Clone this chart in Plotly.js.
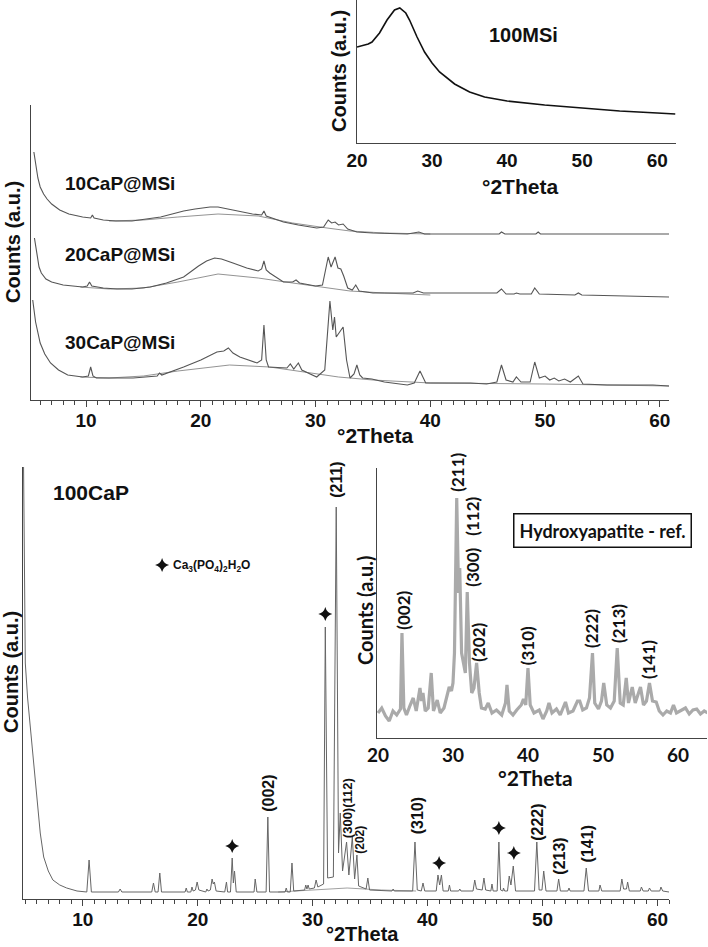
<!DOCTYPE html>
<html><head><meta charset="utf-8">
<script src="https://cdn.plot.ly/plotly-3.0.1.min.js"></script>
<style>body{margin:0;background:#fff}#c{width:708px;height:947px}</style>
</head><body><div id="c"></div>
<script>
// ---- DATA ----
// top inset: 100MSi
const msi100 = [[20,96],[20.5,97],[21,98],[21.5,99],[22,101],[22.5,105],[23,110],[24,123],[25,133],[25.7,135],[26.5,130],[27,123],[28,106],[29,91],[30,80],[31,71],[32,65],[33,59],[34,55],[35,51],[37,46],[40,42],[45,38],[50,35],[55,32],[60,30],[62.4,29]];
// middle panel (offset traces)
const cap10 = [[5.45,248],[5.6,235],[5.8,222],[6.0,213],[6.3,206],[6.6,201],[7.0,196],[7.7,190],[8.5,186],[9.7,183],[10.4,182],[10.55,185],[10.7,182],[11.5,180],[12.6,179],[14.0,179],[15.5,181],[16.5,183],[17.5,186],[18.5,189],[19.5,191],[20.8,193],[21.5,193],[22.3,191],[23.5,188],[24.5,186],[25.3,185],[25.5,189],[25.7,184],[26.5,181],[27.2,178],[28.5,175],[30.1,172],[30.7,173],[31.1,180],[31.4,177],[31.7,178],[32.0,175],[32.4,176],[32.8,171],[33.6,168],[35,167],[38,166],[39,168],[39.5,166],[46.0,166],[46.2,168],[46.5,166],[49.2,166],[49.4,168],[49.6,166],[60.8,166]];
const cap10Bg = [[12,179],[15,180],[18,183],[21.5,186],[25,184],[28,177],[31,172],[33,169],[36,167],[40,166]];
const cap20 = [[5.5,162],[5.7,145],[5.9,133],[6.1,127],[6.5,121],[7.0,118],[8.0,115],[9.7,113],[10.1,114],[10.3,118],[10.5,114],[11.5,112],[12.7,111],[14.0,111],[15.6,113],[17.0,117],[18.5,123],[19.8,134],[20.5,139],[21.2,142],[21.8,141],[22.8,137],[24.0,132],[25.0,129],[25.3,131],[25.5,139],[25.7,130],[26.0,127],[27.2,118],[28.0,118],[28.3,120],[28.6,117],[30.0,114],[30.6,115],[30.9,133],[31.1,143],[31.35,133],[31.7,143],[31.95,132],[32.2,131],[32.45,124],[32.8,112],[33.2,110],[33.5,115],[33.8,109],[35,107],[38.5,107],[38.9,109],[39.4,107],[45.8,107],[46.2,111],[46.6,106],[47.3,106],[47.5,107],[47.8,106],[48.8,106],[49.1,112],[49.5,106],[52.6,105],[52.9,107],[53.2,105],[56,104],[60.8,103]];
const cap20Bg = [[9.5,113],[12,111],[15,112],[18,118],[21.5,126],[25,122],[28,117],[31,112],[33,109],[36,107],[40,105]];
const cap30 = [[5.35,100],[5.6,78],[6.0,57],[6.4,46],[6.9,37],[7.6,30],[8.4,25],[9.7,23],[10.2,24],[10.4,33],[10.6,24],[10.9,22],[14.1,22],[16.2,24],[16.4,27],[16.6,25],[18.5,33],[20.0,40],[21.4,48],[22.0,49],[22.4,52],[22.8,47],[23.4,43],[24.9,37],[25.3,40],[25.5,75],[25.7,40],[25.9,33],[27.5,32],[27.8,36],[28.1,31],[28.5,37],[28.8,30],[30.1,23],[30.8,30],[31.25,99],[31.5,70],[31.65,83],[31.8,63],[32.1,68],[32.4,73],[32.7,40],[33.0,22],[33.35,26],[33.6,35],[33.85,25],[34.1,22],[34.9,21],[36,18],[38.0,15],[38.6,17],[39.1,29],[39.6,17],[41.4,17],[43.5,17],[44.9,16],[45.8,18],[46.2,35],[46.6,20],[47.2,18],[47.5,23],[47.9,18],[48.7,18],[49.1,38],[49.5,22],[50.0,24],[50.4,20],[50.8,22],[51.2,19],[51.7,21],[52.2,18],[52.9,24],[53.3,16],[55.4,15],[56.8,15],[59.4,15],[60.8,14]];
const cap30Bg = [[9.5,23],[12,22],[15,24],[18,29],[22.5,35],[26,33],[29,28],[32,23],[35,20],[40,17],[50,16],[60.8,14]];
// bottom panel: 100CaP
const cap100 = [[4.85,426],[4.92,300],[5.0,230],[5.2,195],[5.45,165],[5.7,135],[6.0,93],[6.3,60],[6.6,36],[7.0,22],[7.4,13],[8.0,8],[8.6,5],[9.5,2],[10.35,1],[10.55,33],[10.75,1],[13.1,1],[13.25,4],[13.4,1],[16.0,1],[16.15,10],[16.3,1],[16.55,1],[16.7,20],[16.85,1],[18.9,1],[19.0,5],[19.1,1],[19.4,1],[19.5,6],[19.6,2],[19.8,3],[19.95,11],[20.1,3],[20.7,1],[20.8,4],[20.9,2],[21.1,3],[21.25,14],[21.35,9],[21.45,11],[21.6,2],[22.35,1],[22.5,11],[22.6,1],[22.85,1],[23.0,35],[23.1,10],[23.2,22],[23.35,1],[24.9,1],[25.0,14],[25.15,1],[25.95,1],[26.1,76],[26.25,1],[27.6,1],[27.7,5],[27.8,1],[28.05,1],[28.2,30],[28.35,2],[29.3,3],[29.4,8],[29.5,4],[29.6,8],[29.7,4],[30.15,5],[30.3,13],[30.45,6],[30.95,9],[31.1,266],[31.3,15],[31.8,16],[32.05,386],[32.25,40],[32.4,80],[32.6,22],[32.95,51],[33.15,18],[33.45,56],[33.65,14],[33.85,38],[34.0,7],[34.65,4],[34.8,15],[34.95,3],[36.9,2],[37.0,4],[37.1,2],[38.7,2],[38.9,51],[39.1,3],[39.45,2],[39.6,10],[39.75,2],[40.75,2],[40.9,18],[41.05,8],[41.2,18],[41.35,2],[41.8,2],[41.9,8],[42.0,2],[42.7,2],[42.8,4],[42.9,2],[43.95,2],[44.1,13],[44.25,4],[44.75,3],[44.9,15],[45.05,3],[45.5,2],[45.6,9],[45.7,2],[46.05,2],[46.2,51],[46.35,3],[46.55,2],[46.6,5],[46.7,2],[46.95,2],[47.1,17],[47.25,8],[47.45,27],[47.65,2],[49.3,2],[49.5,51],[49.7,3],[49.95,3],[50.1,22],[50.3,2],[51.25,2],[51.4,14],[51.55,2],[52.2,2],[52.3,5],[52.4,2],[53.6,2],[53.8,25],[54.0,2],[54.9,2],[55.0,8],[55.15,2],[56.75,2],[56.9,14],[57.05,4],[57.3,4],[57.4,11],[57.55,2],[58.5,2],[58.6,6],[58.75,2],[59.2,2],[59.3,5],[59.45,2],[60.2,2],[60.3,6],[60.45,2],[61.0,1]];
const cap100Bg = [[27,1],[30,3],[33,5],[36,3],[39,2]];
const starX = [16.9, 23.0, 31.1, 41.0, 46.2, 47.5];
const starY = [328, 47, 279, 30, 65, 40];
const capLabels = ['(211)','(002)','(300)(112)','(202)','(310)','(222)','(213)','(141)'];
const capLabelX = [32.1, 26.1, 33.0, 34.1, 39.1, 49.5, 51.4, 53.9];
const capLabelY = [413, 100, 85, 53, 77, 71, 37, 49];
const capLabelSize = [16, 16, 13, 12, 16, 16, 16, 16];
// inset: Hydroxyapatite reference
const hap = [[20,0],[20.5,5],[21,-3],[21.5,-8],[22,2],[22.5,-2],[23.0,4],[23.2,80],[23.45,5],[23.8,-2],[24.3,8],[24.7,15],[25.1,2],[25.6,25],[25.8,12],[26.0,20],[26.3,2],[26.7,5],[27.1,40],[27.4,2],[27.9,13],[28.3,0],[28.8,5],[29.3,18],[29.5,26],[29.8,22],[30.0,30],[30.2,60],[30.5,215],[30.75,120],[30.9,145],[31.15,60],[31.4,50],[31.65,40],[31.9,121],[32.2,50],[32.5,20],[32.8,25],[33.15,50],[33.5,20],[33.8,5],[34.3,4],[34.7,10],[35.2,0],[35.8,3],[36.5,-2],[37.0,10],[37.2,28],[37.5,2],[38.0,-2],[38.5,3],[39.1,8],[39.4,14],[39.7,8],[40.0,45],[40.3,8],[40.8,0],[41.5,3],[42.0,-6],[42.5,2],[42.8,10],[43.2,0],[43.8,4],[44.3,-2],[45.0,11],[45.4,0],[46.0,2],[46.6,12],[46.9,12],[47.3,3],[47.8,5],[48.2,15],[48.6,60],[48.9,10],[49.4,4],[49.8,12],[50.1,30],[50.5,8],[51.0,5],[51.5,12],[51.9,65],[52.3,10],[52.7,8],[53.1,35],[53.4,10],[53.9,26],[54.3,10],[55.0,26],[55.4,8],[55.8,12],[56.2,30],[56.6,12],[57.1,11],[57.5,2],[58.0,-2],[58.5,2],[59.0,0],[59.4,8],[59.8,0],[60.3,2],[61.0,5],[61.5,-1],[62.0,3],[62.5,4],[63.0,-1],[63.5,2],[64,0]];
const hapLabels = ['(002)','(211)','(112)','(300)','(202)','(310)','(222)','(213)','(141)'];
const hapLabelX = [23.3, 30.5, 32.5, 32.5, 33.3, 39.9, 48.4, 52.0, 56.0];
const hapLabelY = [103, 241, 197, 146, 71, 67, 85, 90, 54];
const sampleNames = ['10CaP@MSi','20CaP@MSi','30CaP@MSi'];
const majorTicks = [10, 20, 30, 40, 50, 60];
const midTicks = [5, 15, 25, 35, 45, 55];

// ---- helpers ----
const W = 708, H = 947;
const PX = x => x / W, PY = y => 1 - y / H;
const xs = a => a.map(p => p[0]), ys = a => a.map(p => p[1]);
const ARIAL = 'Liberation Sans, Arial, sans-serif';
const CAL = 'Lato, Open Sans, sans-serif';
const bold = (size, fam) => ({family: fam || ARIAL, size: size, weight: 'bold', color: '#111'});

function line(d, xa, ya, color, width) {
  return {x: xs(d), y: ys(d), xaxis: xa, yaxis: ya, mode: 'lines', type: 'scatter',
    line: {color: color, width: width}, hoverinfo: 'skip'};
}
const traces = [
  line(msi100, 'x2', 'y2', '#111', 1.6),
  line(cap10Bg, 'x', 'y', '#777', 0.8),
  line(cap20Bg, 'x', 'y', '#777', 0.8),
  line(cap30Bg, 'x', 'y', '#777', 0.8),
  line(cap10, 'x', 'y', '#555', 1.1),
  line(cap20, 'x', 'y', '#555', 1.1),
  line(cap30, 'x', 'y', '#555', 1.1),
  line(cap100Bg, 'x3', 'y3', '#888', 0.8),
  line(cap100, 'x3', 'y3', '#666', 1.0),
  line(hap, 'x4', 'y4', '#aaaaaa', 3.2),
  {x: starX, y: starY, xaxis: 'x3', yaxis: 'y3', mode: 'markers', type: 'scatter',
   marker: {symbol: 'star-diamond', size: 10, color: '#111', line: {width: 0}}, hoverinfo: 'skip'}
];

const mainX = (dom, rng, ya) => ({domain: dom, range: rng, anchor: ya, showline: true, linecolor: '#444', linewidth: 1.2,
  ticks: 'outside', tickmode: 'array', tickvals: majorTicks, ticklen: 6, tickwidth: 1, tickcolor: '#444',
  ticklabelstandoff: -3,
  minor: {tickmode: 'linear', tick0: 0, dtick: 1, ticks: 'outside', ticklen: 4, tickwidth: 1, tickcolor: '#444', showgrid: false},
  showgrid: false, zeroline: false, tickfont: bold(19), fixedrange: true});
const midX = (base, dom, rng, ya) => ({overlaying: base, domain: dom, range: rng, anchor: ya, side: 'bottom', showline: false,
  ticks: 'outside', tickmode: 'array', tickvals: midTicks, ticklen: 6, tickwidth: 1, tickcolor: '#444',
  showticklabels: false, showgrid: false, zeroline: false, fixedrange: true});
const plainY = (dom, rng, xa) => ({domain: dom, range: rng, anchor: xa, showline: true, linecolor: '#444', linewidth: 1.2,
  ticks: '', showticklabels: false, showgrid: false, zeroline: false, fixedrange: true});
const insetX = (dom, rng, ya, fam) => ({domain: dom, range: rng, anchor: ya, showline: true, linecolor: '#444', linewidth: 1.2,
  ticks: '', tickmode: 'array', tickvals: [20,30,40,50,60], showgrid: false, zeroline: false, tickfont: bold(19, fam), fixedrange: true});

const ann = [];
function pText(text, x, y, size, fam, angle) {
  ann.push({text: text, xref: 'paper', yref: 'paper', x: PX(x), y: PY(y), xanchor: 'center', yanchor: 'middle',
    showarrow: false, font: bold(size, fam), textangle: angle || 0});
}
// axis titles
pText('°2Theta', 520, 187, 21);
pText('Counts (a.u.)', 339, 71, 20, ARIAL, -90);
pText('°2Theta', 375, 436, 21);
pText('Counts (a.u.)', 13, 242, 20, ARIAL, -90);
pText('°2Theta', 362, 934, 20);
pText('Counts (a.u.)', 11, 672, 20, ARIAL, -90);
pText('°2Theta', 535, 777, 21, CAL);
pText('Counts (a.u.)', 365, 610, 20, CAL, -90);
// sample names
pText('100MSi', 523, 35, 20);
pText(sampleNames[0], 120, 183, 19);
pText(sampleNames[1], 120, 254, 19);
pText(sampleNames[2], 120, 342, 19);
pText('100CaP', 91, 492, 21);
// legend text for the star
ann.push({text: 'Ca<sub>3</sub>(PO<sub>4</sub>)<sub>2</sub>H<sub>2</sub>O', xref: 'paper', yref: 'paper', x: PX(171), y: PY(566),
  xanchor: 'left', yanchor: 'middle', showarrow: false, font: bold(12)});
// reference box
ann.push({text: 'Hydroxyapatite - ref.', xref: 'paper', yref: 'paper', x: PX(602), y: PY(530), xanchor: 'center', yanchor: 'middle',
  showarrow: false, font: bold(18, CAL), bordercolor: '#111', borderwidth: 1.5, borderpad: 5, bgcolor: '#fff'});
// peak labels
capLabels.forEach((t, i) => ann.push({text: t, xref: 'x3', yref: 'y3', x: capLabelX[i], y: capLabelY[i], xanchor: 'center', yanchor: 'middle',
  showarrow: false, textangle: -90, font: bold(capLabelSize[i])}));
hapLabels.forEach((t, i) => ann.push({text: t, xref: 'x4', yref: 'y4', x: hapLabelX[i], y: hapLabelY[i], xanchor: 'center', yanchor: 'middle',
  showarrow: false, textangle: -90, font: bold(17, CAL)}));

const domMid = [PX(31), PX(669)], rngMid = [5.2, 60.8];
const domBot = [PX(23), PX(669)], rngBot = [4.8, 61];
const layout = {
  width: W, height: H, margin: {l: 0, r: 0, t: 0, b: 0}, paper_bgcolor: '#fff', plot_bgcolor: 'rgba(0,0,0,0)',
  showlegend: false, font: {family: ARIAL, color: '#111'},
  xaxis: mainX(domMid, rngMid, 'y'),
  yaxis: plainY([PY(400), PY(105)], [0, 295], 'x'),
  xaxis2: insetX([PX(357), PX(676)], [20, 62.5], 'y2', ARIAL),
  yaxis2: plainY([PY(143), PY(0)], [0, 143], 'x2'),
  xaxis3: mainX(domBot, rngBot, 'y3'),
  yaxis3: plainY([PY(899), PY(467)], [-6, 426], 'x3'),
  xaxis4: insetX([PX(377), PX(707)], [19.87, 63.87], 'y4', CAL),
  yaxis4: plainY([PY(738), PY(468)], [-25, 245], 'x4'),
  xaxis5: midX('x', domMid, rngMid, 'y'),
  xaxis6: midX('x3', domBot, rngBot, 'y3'),
  annotations: ann
};
Plotly.newPlot('c', traces, layout, {displayModeBar: false, staticPlot: true});
</script></body></html>
